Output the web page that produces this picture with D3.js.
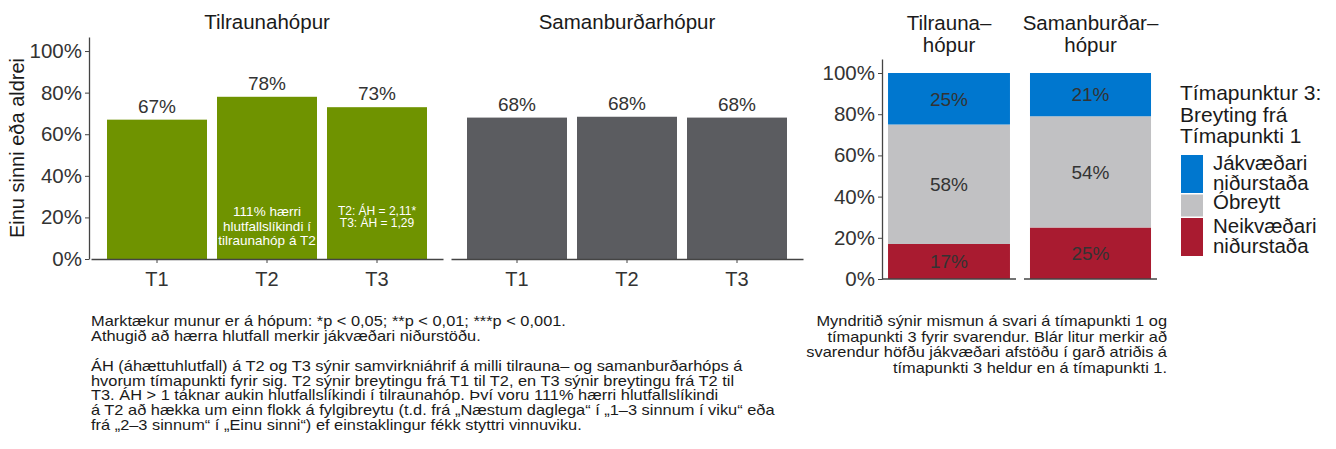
<!DOCTYPE html>
<html>
<head>
<meta charset="utf-8">
<script src="https://cdn.jsdelivr.net/npm/d3@7"></script>
<style>
  body { margin: 0; background: #fff; }
  text { font-family: "Liberation Sans", Arial, sans-serif; }
</style>
</head>
<body>
<div id="chart"></div>
<script>
// data
var timepoints = ["T1", "T2", "T3"];
var groups = ["Tilraunahópur", "Samanburðarhópur"];
var pctTilrauna = [0.67, 0.78, 0.73];
var pctSamanburdar = [0.68, 0.684, 0.68];

var changeGroups = ["Tilrauna–\nhópur", "Samanburðar–\nhópur"];
var changeCats = ["Jákvæðari\nniðurstaða", "Óbreytt", "Neikvæðari\nniðurstaða"];
var changeTilrauna = [0.25, 0.58, 0.17];
var changeSamanburdar = [0.21, 0.54, 0.25];

var note2 = ["111% hærri", "hlutfallslíkindi í", "tilraunahóp á T2"];
var note3 = ["T2: ÁH = 2,11*", "T3: ÁH = 1,29"];

var captionLeft = [
  "Marktækur munur er á hópum: *p < 0,05; **p < 0,01; ***p < 0,001.",
  "Athugið að hærra hlutfall merkir jákvæðari niðurstöðu.",
  "",
  "ÁH (áhættuhlutfall) á T2 og T3 sýnir samvirkniáhrif á milli tilrauna– og samanburðarhóps á",
  "hvorum tímapunkti fyrir sig. T2 sýnir breytingu frá T1 til T2, en T3 sýnir breytingu frá T2 til",
  "T3. ÁH > 1 táknar aukin hlutfallslíkindi í tilraunahóp. Því voru 111% hærri hlutfallslíkindi",
  "á T2 að hækka um einn flokk á fylgibreytu (t.d. frá „Næstum daglega“ í „1–3 sinnum í viku“ eða",
  "frá „2–3 sinnum“ í „Einu sinni“) ef einstaklingur fékk styttri vinnuviku."
];
var captionRight = [
  "Myndritið sýnir mismun á svari á tímapunkti 1 og",
  "tímapunkti 3 fyrir svarendur. Blár litur merkir að",
  "svarendur höfðu jákvæðari afstöðu í garð atriðis á",
  "tímapunkti 3 heldur en á tímapunkti 1."
];

var green = "#6f9300", darkGrey = "#5b5c60";
var stackColors = ["#0077cf", "#c1c1c3", "#a91b30"];
var axisCol = "#444", textCol = "#333", titleCol = "#1a1a1a";

var svg = d3.select("#chart").append("svg")
    .attr("width", 1336)
    .attr("height", 449);

// ---- left chart: two facets of bars ----
var y = d3.scaleLinear().domain([0, 1.0675]).range([259, 37]);
var panels = [
  { name: groups[0], vals: pctTilrauna, range: [91, 443], fill: green },
  { name: groups[1], vals: pctSamanburdar, range: [451, 803], fill: darkGrey }
];

panels.forEach(function (p, i) {
    var x = d3.scaleBand().domain(timepoints).range(p.range)
        .paddingInner(10 / 110).paddingOuter(16 / 110);
    var g = svg.append("g");

    g.selectAll("rect").data(p.vals).enter().append("rect")
        .attr("x", function (d, j) { return x(timepoints[j]); })
        .attr("y", function (d) { return y(d); })
        .attr("width", x.bandwidth())
        .attr("height", function (d) { return y(0) - y(d); })
        .attr("fill", p.fill);

    g.selectAll(".val").data(p.vals).enter().append("text")
        .attr("x", function (d, j) { return x(timepoints[j]) + x.bandwidth() / 2; })
        .attr("y", function (d) { return y(d) - 7; })
        .attr("text-anchor", "middle")
        .attr("font-size", 19)
        .attr("fill", textCol)
        .text(function (d) { return Math.round(d * 100) + "%"; });

    var xa = g.append("g").attr("transform", "translate(0," + y(0) + ")")
        .call(d3.axisBottom(x).tickSize(4).tickSizeOuter(0));
    xa.select(".domain").attr("stroke", axisCol).attr("stroke-width", 1.3);
    xa.selectAll(".tick line").attr("stroke", axisCol);
    xa.selectAll(".tick text").attr("font-size", 20).attr("fill", textCol)
        .attr("font-family", "Liberation Sans, Arial, sans-serif").attr("dy", "1.0em");

    g.append("text")
        .attr("x", (p.range[0] + p.range[1]) / 2)
        .attr("y", 29)
        .attr("text-anchor", "middle")
        .attr("font-size", 20.5)
        .attr("fill", titleCol)
        .text(p.name);

    if (i === 0) {
        var ya = g.append("g").attr("transform", "translate(" + (p.range[0] - 2) + ",0)")
            .call(d3.axisLeft(y).tickValues([0, 0.2, 0.4, 0.6, 0.8, 1])
                .tickFormat(d3.format(".0%")).tickSize(4).tickSizeOuter(0));
        ya.select(".domain").attr("stroke", axisCol).attr("stroke-width", 1.3);
        ya.selectAll(".tick line").attr("stroke", axisCol);
        ya.selectAll(".tick text").attr("font-size", 20.5).attr("fill", textCol)
            .attr("font-family", "Liberation Sans, Arial, sans-serif");

        // notes inside bars
        var cx2 = x("T2") + x.bandwidth() / 2;
        g.selectAll(".n2").data(note2).enter().append("text")
            .attr("x", cx2)
            .attr("y", function (d, k) { return y(0) - 43 + k * 14.6; })
            .attr("text-anchor", "middle").attr("font-size", 13.5).attr("fill", "#fff")
            .text(function (d) { return d; });
        var cx3 = x("T3") + x.bandwidth() / 2;
        g.selectAll(".n3").data(note3).enter().append("text")
            .attr("x", cx3)
            .attr("y", function (d, k) { return y(0) - 44 + k * 12; })
            .attr("text-anchor", "middle").attr("font-size", 12).attr("fill", "#fff")
            .text(function (d) { return d; });
    }
});

svg.append("text")
    .attr("transform", "translate(24,148) rotate(-90)")
    .attr("text-anchor", "middle")
    .attr("font-size", 20)
    .attr("fill", titleCol)
    .text("Einu sinni eða aldrei");

// ---- right chart: stacked change bars ----
var y2 = d3.scaleLinear().domain([0, 1.068]).range([279, 59]);
var stacks = [
  { name: changeGroups[0], vals: changeTilrauna, range: [882, 1016] },
  { name: changeGroups[1], vals: changeSamanburdar, range: [1024, 1157] }
];

stacks.forEach(function (s, i) {
    var x = d3.scaleBand().domain([s.name]).range(s.range)
        .paddingInner(0.09).paddingOuter(0.045);
    var g = svg.append("g");
    // stack from the bottom: negative, unchanged, positive
    var order = [2, 1, 0];
    var acc = 0;
    var segs = order.map(function (k) {
        var seg = { k: k, v0: acc, v1: acc + s.vals[k] };
        acc += s.vals[k];
        return seg;
    });
    g.selectAll("rect").data(segs).enter().append("rect")
        .attr("x", x(s.name))
        .attr("y", function (d) { return y2(d.v1); })
        .attr("width", x.bandwidth())
        .attr("height", function (d) { return y2(d.v0) - y2(d.v1); })
        .attr("fill", function (d) { return stackColors[d.k]; });
    g.selectAll(".lab").data(segs).enter().append("text")
        .attr("x", x(s.name) + x.bandwidth() / 2)
        .attr("y", function (d) { return (y2(d.v0) + y2(d.v1)) / 2; })
        .attr("dy", "0.36em")
        .attr("text-anchor", "middle").attr("font-size", 19).attr("fill", textCol)
        .text(function (d) { return Math.round(s.vals[d.k] * 100) + "%"; });

    g.append("line")
        .attr("x1", s.range[0]).attr("x2", s.range[1])
        .attr("y1", y2(0)).attr("y2", y2(0))
        .attr("stroke", axisCol).attr("stroke-width", 1.3);

    g.selectAll(".ft").data(s.name.split("\n")).enter().append("text")
        .attr("x", (s.range[0] + s.range[1]) / 2)
        .attr("y", function (d, k) { return 30 + k * 21.5; })
        .attr("text-anchor", "middle").attr("font-size", 20.5).attr("fill", titleCol)
        .text(function (d) { return d; });

    if (i === 0) {
        var ya = g.append("g").attr("transform", "translate(" + s.range[0] + ",0)")
            .call(d3.axisLeft(y2).tickValues([0, 0.2, 0.4, 0.6, 0.8, 1])
                .tickFormat(d3.format(".0%")).tickSize(4).tickSizeOuter(0));
        ya.select(".domain").attr("stroke", axisCol).attr("stroke-width", 1.3);
        ya.selectAll(".tick line").attr("stroke", axisCol);
        ya.selectAll(".tick text").attr("font-size", 20.5).attr("fill", textCol)
            .attr("font-family", "Liberation Sans, Arial, sans-serif");
    }
});

// legend
var legend = svg.append("g");
["Tímapunktur 3:", "Breyting frá", "Tímapunkti 1"].forEach(function (t, k) {
    legend.append("text").attr("x", 1180).attr("y", 100 + k * 21.5)
        .attr("font-size", 21).attr("fill", titleCol).text(t);
});
var ky = 155;
changeCats.forEach(function (c, k) {
    var lines = c.split("\n");
    var h = lines.length * 21 + (lines.length > 1 ? -4 : 1);
    legend.append("rect").attr("x", 1181).attr("y", ky).attr("width", 22)
        .attr("height", h).attr("fill", stackColors[k]);
    lines.forEach(function (l, m) {
        legend.append("text").attr("x", 1213)
            .attr("y", ky + 15 + m * 20.5)
            .attr("font-size", 19.5).attr("fill", titleCol)
            .attr("transform", "translate(1213,0) scale(1.05,1) translate(-1213,0)")
            .text(l);
    });
    ky += h + 1.5;
});

// captions: the source font is set slightly wide, so stretch horizontally
var capL = svg.append("g").attr("transform", "translate(91,0) scale(1.13,1)");
capL.selectAll("text").data(captionLeft).enter().append("text")
    .attr("x", 0)
    .attr("y", function (d, k) { return 326 + k * 14.9; })
    .attr("font-size", 14.5).attr("fill", titleCol)
    .text(function (d) { return d; });
var capR = svg.append("g").attr("transform", "translate(1167,0) scale(1.13,1)");
capR.selectAll("text").data(captionRight).enter().append("text")
    .attr("x", 0)
    .attr("y", function (d, k) { return 326 + k * 15.6; })
    .attr("text-anchor", "end")
    .attr("font-size", 14.5).attr("fill", titleCol)
    .text(function (d) { return d; });
</script>
</body>
</html>
